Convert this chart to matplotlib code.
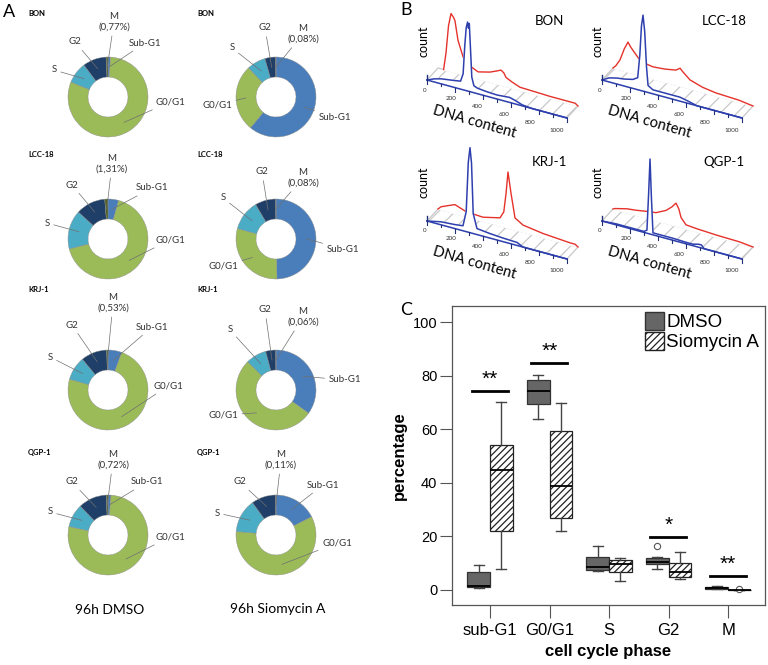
import matplotlib.pyplot as plt
import numpy as np
from matplotlib.patches import Polygon, Patch
from matplotlib.transforms import Affine2D

W, H = 768, 665
plt.rcParams['font.family'] = ['Lato', 'DejaVu Sans']
plt.rcParams['hatch.linewidth'] = 0.9

# ---------------- panel A: cell cycle distribution (%) ----------------
phases = ['Sub-G1', 'G0/G1', 'S', 'G2', 'M']
cell_lines = ['BON', 'LCC-18', 'KRJ-1', 'QGP-1']
dmso_pct = [[1.0, 80.0, 8.6, 9.5, 0.77],
            [4.3, 67.0, 15.8, 12.0, 1.31],
            [5.6, 73.7, 9.6, 10.5, 0.53],
            [1.2, 77.0, 9.4, 11.4, 0.72]]
sio_pct = [[61.0, 27.0, 7.5, 4.4, 0.08],
           [49.6, 29.6, 12.3, 8.4, 0.08],
           [34.8, 52.6, 8.3, 4.1, 0.06],
           [17.5, 59.0, 13.6, 9.9, 0.11]]
m_dmso = ['0,77%', '1,31%', '0,53%', '0,72%']
m_sio = ['0,08%', '0,08%', '0,06%', '0,11%']
phase_colors = ['#4A7EBB', '#9BBB59', '#4BACC6', '#1F3F68', '#4F6228']

# ---------------- panel B: DNA histograms (front = Siomycin A, back = DMSO) ----------------
bon_blue_x = [0, 50, 100, 150, 200, 240, 258, 270, 280, 290, 296, 302, 310, 320, 335, 360, 430, 500, 590, 630, 680, 750, 1000]
bon_blue_y = [0, 3, 5, 6, 7, 8, 16, 45, 63, 69, 63, 68, 45, 15, 7, 5.5, 4.5, 4, 5, 3.5, 1, 0, 0]
bon_red_x = [40, 57, 75, 93, 110, 121, 143, 179, 200, 240, 286, 371, 420, 450, 470, 486, 530, 586, 700, 800, 980, 1000]
bon_red_y = [0, 17, 45, 58, 55, 52, 33, 18, 14, 10, 7, 10, 13, 15, 13, 9, 6, 3, 2.5, 2, 2, 0]
lcc_blue_x = [0, 50, 107, 160, 221, 255, 270, 282, 293, 305, 318, 329, 364, 450, 557, 607, 650, 679, 750, 1000]
lcc_blue_y = [0, 4, 6, 7, 9, 12, 35, 65, 76, 60, 25, 7, 4, 4, 4, 2.5, 1, 0, 0, 0]
lcc_red_x = [0, 20, 50, 80, 107, 125, 143, 193, 240, 286, 370, 450, 479, 500, 550, 640, 736, 900, 1000]
lcc_red_y = [0, 3, 10, 22, 30, 26, 23, 15, 13, 12, 13, 15, 18, 15, 9, 5, 3, 2, 0]
krj_blue_x = [0, 100, 200, 257, 280, 295, 307, 318, 330, 357, 450, 543, 643, 686, 750, 1000]
krj_blue_y = [0, 3, 4, 5, 20, 70, 85, 70, 20, 6, 4.5, 3.6, 3, 0, 0, 0]
krj_red_x = [0, 21, 70, 121, 160, 200, 321, 443, 470, 486, 500, 521, 550, 607, 750, 943, 979, 1000]
krj_red_y = [0, 3, 6, 9, 7, 5, 4, 8, 15, 34, 56, 36, 12, 7, 4, 2, 2, 0]
qgp_blue_x = [0, 100, 200, 300, 321, 333, 343, 352, 364, 450, 507, 600, 650, 690, 710, 730, 800, 1000]
qgp_blue_y = [0, 1, 1, 1, 3, 40, 75, 40, 2, 2, 2, 1.5, 1.5, 3, 3, 0, 0, 0]
qgp_red_x = [0, 14, 100, 164, 250, 307, 379, 420, 450, 470, 486, 521, 600, 736, 900, 1000]
qgp_red_y = [0, 1, 4, 5, 7, 8, 13, 18, 23, 18, 10, 4, 3, 2, 1.5, 0]
dna_ticks = [0, 200, 400, 600, 800, 1000]

# ---------------- panel C: box plot statistics (%) ----------------
box_phases = ['sub-G1', 'G0/G1', 'S', 'G2', 'M']
dmso_whislo = [0.8, 63.8, 7.1, 7.7, 0.3]
dmso_q1 = [1.1, 69.3, 7.5, 9.6, 0.5]
dmso_med = [1.6, 74.3, 8.7, 10.3, 0.9]
dmso_q3 = [6.8, 78.4, 12.2, 11.8, 1.2]
dmso_whishi = [9.3, 80.2, 16.4, 12.4, 1.4]
dmso_fliers = [[], [], [], [16.4], []]
sio_whislo = [7.7, 22.1, 3.4, 4.0, 0.0]
sio_q1 = [22.1, 26.8, 6.6, 5.0, 0.02]
sio_med = [44.7, 38.8, 9.6, 6.8, 0.06]
sio_q3 = [54.0, 59.3, 11.2, 10.0, 0.1]
sio_whishi = [70.0, 69.9, 11.8, 14.3, 0.12]
sio_fliers = [[], [], [], [], [0.3]]
sig_groups = [1, 2, 4, 5]
sig_levels = [74.4, 84.8, 19.9, 5.2]
sig_marks = ['**', '**', '*', '**']

fig = plt.figure(figsize=(W / 100, H / 100), dpi=100)


def ftext(x, y, s, **kw):
    fig.text(x / W, 1 - y / H, s, **kw)


# ---- A: donuts ----
centers_x = [108, 276]
centers_y = [97, 239, 390, 535]
label_y = [13, 155, 290, 453]
offs_dmso = [[(37, 54), (62, -5), (-54, 27), (-33, 55), (6, 75)],
             [(44, 51), (62, -1), (-61, 16), (-36, 54), (4, 75)],
             [(44, 63), (60, 4), (-58, 33), (-36, 65), (5, 87)],
             [(39, 53), (62, -2), (-58, 23), (-36, 53), (5, 75)]]
offs_sio = [[(59, -20), (-59, -8), (-44, 49), (-11, 69), (27, 63)],
            [(67, -10), (-53, -27), (-53, 41), (-14, 67), (27, 61)],
            [(69, 10), (-53, -25), (-46, 60), (-11, 80), (27, 73)],
            [(47, 50), (61, -8), (-59, 22), (-36, 53), (5, 75)]]


def donut(cx, cy, vals, offsets, m_txt):
    ax = fig.add_axes([(cx - 95) / W, 1 - (cy + 55) / H, 190 / W, 150 / H])
    wedges, _ = ax.pie(vals, colors=phase_colors, radius=40, startangle=90,
                       counterclock=False,
                       wedgeprops=dict(width=20, edgecolor='#8c8c8c', linewidth=0.3))
    ax.set_xlim(-95, 95)
    ax.set_ylim(-55, 95)
    ax.axis('off')
    for w, name, (dx, dy) in zip(wedges, phases, offsets):
        ang = np.deg2rad((w.theta1 + w.theta2) / 2)
        txt = name if name != 'M' else 'M\n(' + m_txt + ')'
        ax.annotate(txt, xy=(30 * np.cos(ang), 30 * np.sin(ang)), xytext=(dx, dy),
                    ha='center', va='center', fontsize=7, color='#333333',
                    linespacing=1.25,
                    arrowprops=dict(arrowstyle='-', color='#6f6f6f', lw=0.5,
                                    shrinkA=1, shrinkB=0))


for r, name in enumerate(cell_lines):
    donut(centers_x[0], centers_y[r], dmso_pct[r], offs_dmso[r], m_dmso[r])
    donut(centers_x[1], centers_y[r], sio_pct[r], offs_sio[r], m_sio[r])
    ftext(28, label_y[r], name, fontsize=5.5, fontweight='bold', va='center')
    ftext(197, label_y[r], name, fontsize=5.5, fontweight='bold', va='center')

ftext(110, 610, '96h DMSO', fontsize=10, ha='center', va='center')
ftext(278, 609, '96h Siomycin A', fontsize=10, ha='center', va='center')
ftext(3, 12, 'A', fontsize=13, va='center')
ftext(400, 10, 'B', fontsize=13, va='center')
ftext(400, 310, 'C', fontsize=13, va='center')

# ---- B: pseudo-3D histogram overlays ----
axb = fig.add_axes([380 / W, 1 - 300 / H, 388 / W, 300 / H])
axb.set_xlim(380, 768)
axb.set_ylim(300, 0)
axb.axis('off')

b_origin = [(427, 80), (602, 80), (427, 221), (602, 221)]
b_blue = [(bon_blue_x, bon_blue_y), (lcc_blue_x, lcc_blue_y),
          (krj_blue_x, krj_blue_y), (qgp_blue_x, qgp_blue_y)]
b_red = [(bon_red_x, bon_red_y), (lcc_red_x, lcc_red_y),
         (krj_red_x, krj_red_y), (qgp_red_x, qgp_red_y)]
blue, red, navy = '#2e3fae', '#e5322b', '#22307a'

for i, name in enumerate(cell_lines):
    x0, y0 = b_origin[i]
    front = Affine2D.from_values(0.14, 0.038, 0, -1, x0, y0) + axb.transData
    back = Affine2D.from_values(0.14, 0.038, 0, -1, x0 + 11, y0 - 12) + axb.transData
    axb.add_patch(Polygon([(x0, y0), (x0 + 140, y0 + 38), (x0 + 151, y0 + 26), (x0 + 11, y0 - 12)],
                          closed=True, facecolor='white', edgecolor='#c8c8c8',
                          hatch='//', lw=0.9, zorder=1))
    rx, ry = np.array(b_red[i][0]), np.array(b_red[i][1])
    axb.fill(np.r_[rx, rx[::-1]], np.r_[ry, np.zeros_like(ry)], transform=back,
             color='white', zorder=2)
    axb.plot(rx, ry, transform=back, color=red, lw=1.0, zorder=3)
    bx, by = np.array(b_blue[i][0]), np.array(b_blue[i][1])
    axb.fill(np.r_[bx, bx[::-1]], np.r_[by, np.zeros_like(by)], transform=front,
             color='white', zorder=4)
    axb.plot([0, 1000], [0, 0], transform=front, color=blue, lw=1.1, zorder=5)
    axb.plot(bx, by, transform=front, color=blue, lw=1.1, zorder=6)
    axb.plot([0, 0], [0, 5], transform=front, color=navy, lw=1.0, zorder=6)
    for t in range(0, 1001, 100):
        ln = 4 if t % 200 == 0 else 2.5
        axb.plot([t, t], [0, -ln], transform=front, color=navy, lw=0.8, zorder=6)
    for t in dna_ticks:
        axb.text(x0 + 0.14 * t - 2 - 0.008 * t, y0 + 0.038 * t + 10 + 0.002 * t, str(t),
                 fontsize=4.5, ha='center', va='center', color='#333333')
    axb.text(x0 - 4, y0 - 39, 'count', rotation=90, fontsize=9, ha='center', va='center')
    axb.text(x0 + 47, y0 + 42, 'DNA content', rotation=-16, fontsize=10.5,
             ha='center', va='center', rotation_mode='anchor')
    axb.text(x0 + 122, y0 - 59, name, fontsize=9.5, ha='center', va='center')

# ---- C: box plot ----
axc = fig.add_axes([452 / W, 1 - 605 / H, 313 / W, 299 / H])
pos = np.arange(1, len(box_phases) + 1)


def stats(lo, q1, med, q3, hi, fl):
    return [dict(whislo=a, q1=b, med=c, q3=d, whishi=e, fliers=f)
            for a, b, c, d, e, f in zip(lo, q1, med, q3, hi, fl)]


common = dict(widths=0.38, patch_artist=True, manage_ticks=False, capwidths=0.17,
              medianprops=dict(color='black', lw=1.3),
              whiskerprops=dict(color='#444444', lw=1.0),
              capprops=dict(color='#444444', lw=1.0),
              flierprops=dict(marker='o', mfc='white', mec='#555555', ms=4.5, mew=0.8))
axc.bxp(stats(dmso_whislo, dmso_q1, dmso_med, dmso_q3, dmso_whishi, dmso_fliers),
        positions=pos - 0.19,
        boxprops=dict(facecolor='#666666', edgecolor='#333333', lw=0.9), **common)
axc.bxp(stats(sio_whislo, sio_q1, sio_med, sio_q3, sio_whishi, sio_fliers),
        positions=pos + 0.19,
        boxprops=dict(facecolor='white', edgecolor='#222222', hatch='/////', lw=0.9), **common)

for g, lvl, mark in zip(sig_groups, sig_levels, sig_marks):
    axc.plot([g - 0.31, g + 0.3], [lvl, lvl], color='black', lw=2.0)
    axc.text(g, lvl + 0.8, mark, ha='center', va='bottom', fontsize=15,
             family='Liberation Sans')

axc.set_xlim(0.36, 5.62)
axc.set_ylim(-5.6, 106)
axc.set_xticks(pos)
axc.set_xticklabels(box_phases, family='Liberation Sans', fontsize=12)
axc.set_yticks(range(0, 101, 20))
axc.set_yticklabels([str(v) for v in range(0, 101, 20)], family='Liberation Sans', fontsize=10.5)
axc.tick_params(axis='both', length=9, width=0.8, color='#555555', pad=1.5)
axc.tick_params(axis='x', pad=4)
for sp in axc.spines.values():
    sp.set_color('#555555')
    sp.set_linewidth(0.9)
axc.set_ylabel('percentage', family='Liberation Sans', fontsize=12, fontweight='bold')
axc.yaxis.set_label_coords(-0.145, 0.5)
axc.set_xlabel('cell cycle phase', family='Liberation Sans', fontsize=12, fontweight='bold')
axc.xaxis.set_label_coords(0.5, -0.13)

handles = [Patch(facecolor='#666666', edgecolor='#333333', label='DMSO'),
           Patch(facecolor='white', edgecolor='#222222', hatch='/////', label='Siomycin A')]
axc.legend(handles=handles, loc='upper right', frameon=False,
           prop=dict(family='Liberation Sans', size=13.5),
           handlelength=1.0, handleheight=1.1, handletextpad=0.15,
           labelspacing=0.05, borderaxespad=0.2, borderpad=0.1)

fig.savefig('out.png', dpi=100)
